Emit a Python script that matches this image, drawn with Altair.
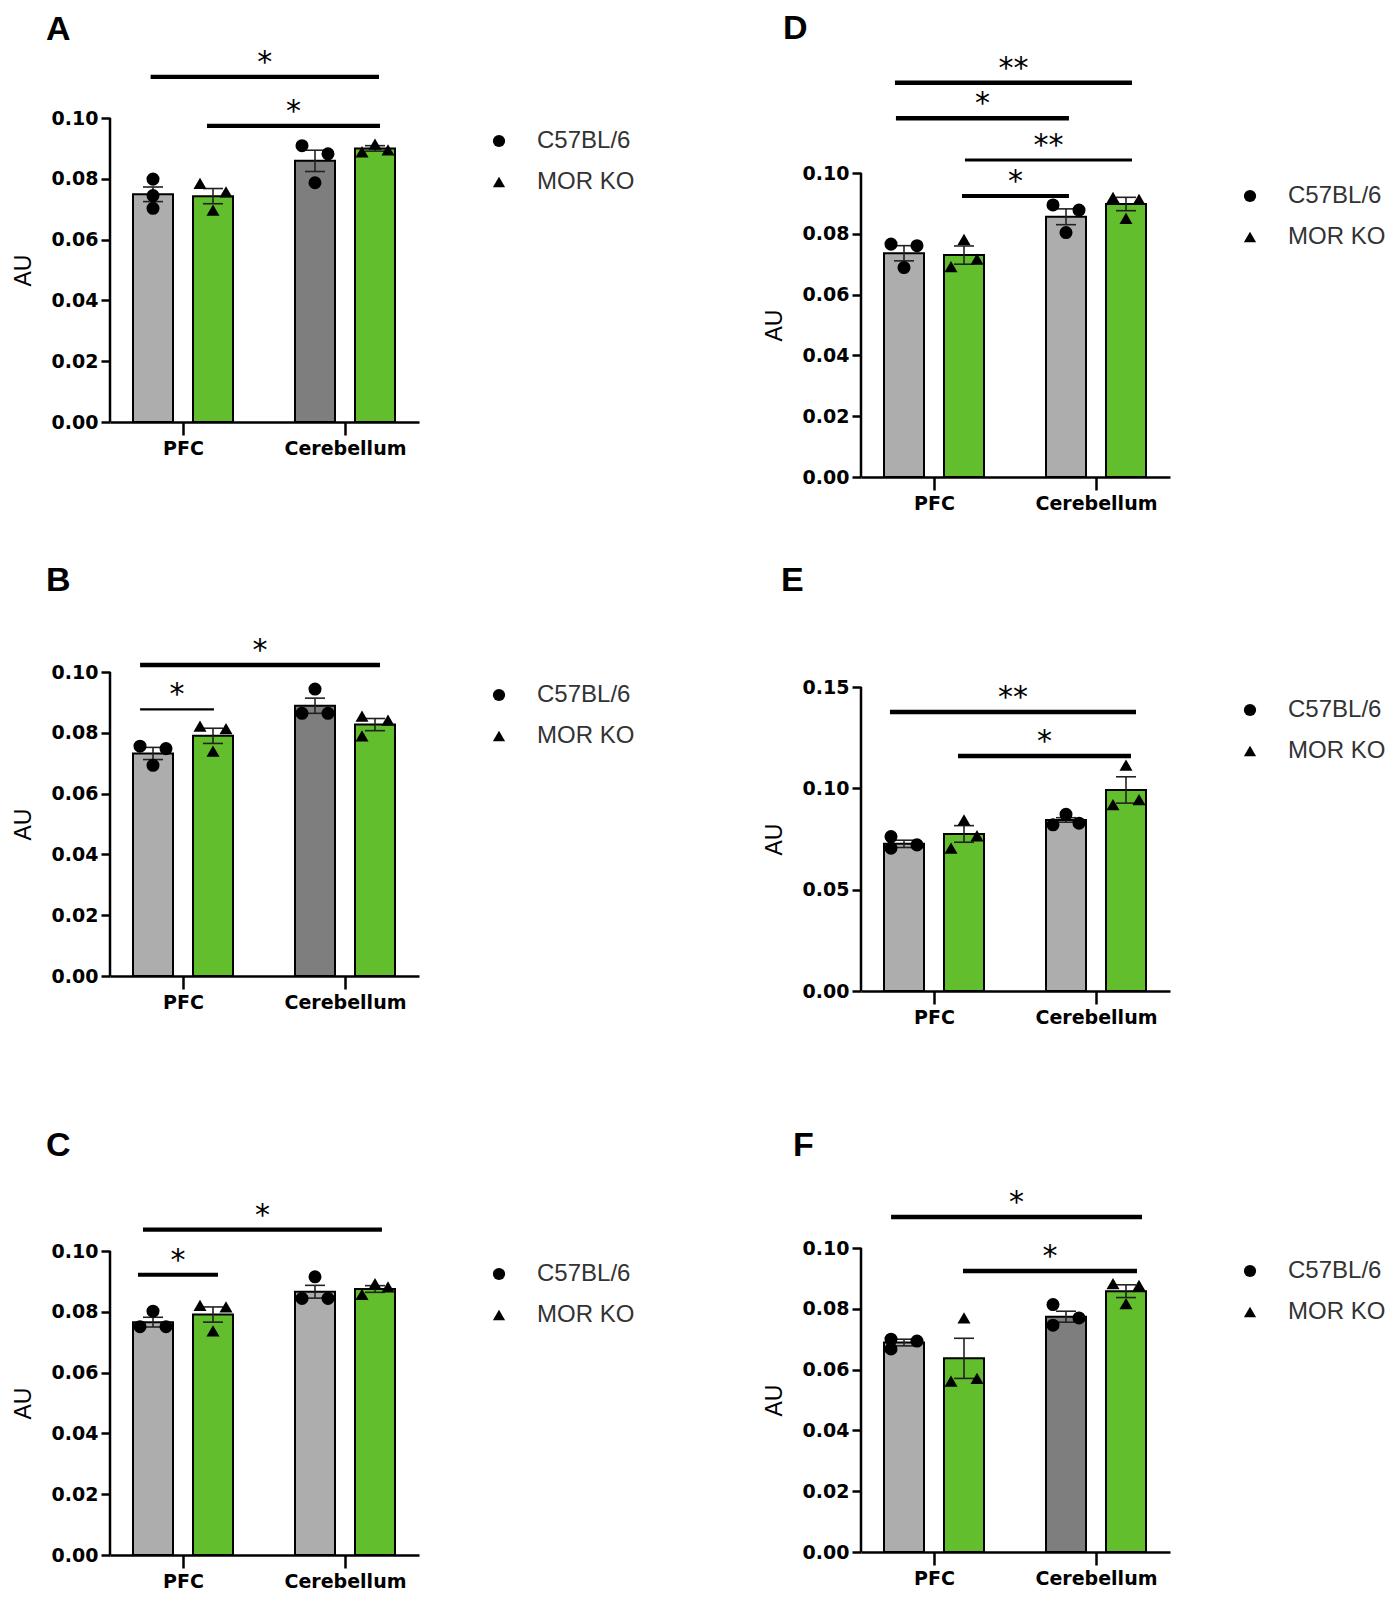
import altair as alt
import pandas as pd

# ---------------- data ----------------
groups = ["PFC", "Cerebellum"]
genotypes = ["C57BL/6", "MOR KO"]

# bar order: PFC C57BL/6, PFC MOR KO, Cerebellum C57BL/6, Cerebellum MOR KO
A_means = [0.0749, 0.0743, 0.0859, 0.0900]
A_sems = [0.0024, 0.0025, 0.0035, 0.0009]
A_points = [[0.0799, 0.0745, 0.0703], [0.0785, 0.0757, 0.0697],
            [0.0909, 0.0882, 0.0787], [0.0889, 0.0914, 0.0895]]
A_brackets = [(0.80, 2.21, 0.1135, "*"), (1.148, 2.216, 0.0974, "*")]

B_means = [0.0732, 0.0790, 0.0889, 0.0827]
B_sems = [0.0020, 0.0025, 0.0025, 0.0020]
B_points = [[0.0756, 0.0748, 0.0693], [0.0822, 0.0814, 0.0740],
            [0.0944, 0.0864, 0.0864], [0.0855, 0.0842, 0.0790]]
B_brackets = [(0.735, 2.216, 0.1023, "*"), (0.735, 1.191, 0.0877, "*")]

C_means = [0.0766, 0.0791, 0.0866, 0.0875]
C_sems = [0.0016, 0.0025, 0.0021, 0.0011]
C_points = [[0.0802, 0.0751, 0.0751], [0.0821, 0.0816, 0.0737],
            [0.0915, 0.0844, 0.0844], [0.0857, 0.0893, 0.0882]]
C_brackets = [(0.753, 2.228, 0.1070, "*"), (0.722, 1.216, 0.0922, "*")]

D_means = [0.0736, 0.0730, 0.0856, 0.0898]
D_sems = [0.0025, 0.0030, 0.0026, 0.0022]
D_points = [[0.0766, 0.0761, 0.0689], [0.0782, 0.0692, 0.0717],
            [0.0895, 0.0878, 0.0804], [0.0920, 0.0913, 0.0851]]
D_brackets = [(0.759, 2.222, 0.1297, "**"), (0.765, 1.833, 0.1180, "*"),
              (1.191, 2.222, 0.1043, "**"), (1.173, 1.833, 0.0924, "*")]

E_means = [0.0726, 0.0775, 0.0844, 0.0992]
E_sems = [0.0018, 0.0041, 0.0011, 0.0065]
E_points = [[0.0762, 0.0705, 0.0721], [0.0844, 0.0705, 0.0766],
            [0.0872, 0.0820, 0.0828], [0.1115, 0.0920, 0.0944]]
E_brackets = [(0.728, 2.247, 0.1377, "**"), (1.148, 2.216, 0.1159, "*")]

F_means = [0.0689, 0.0637, 0.0774, 0.0858]
F_sems = [0.0011, 0.0066, 0.0018, 0.0021]
F_points = [[0.0700, 0.0668, 0.0694], [0.0770, 0.0562, 0.0571],
            [0.0814, 0.0746, 0.0770], [0.0883, 0.0877, 0.0817]]
F_brackets = [(0.735, 2.284, 0.1102, "*"), (1.179, 2.253, 0.0924, "*")]

y_ticks_01 = [0.0, 0.02, 0.04, 0.06, 0.08, 0.10]
y_ticks_015 = [0.0, 0.05, 0.10, 0.15]

# ---------------- styles / layout ----------------
# horizontal spread of the individual points (-1 left, 0 centre, 1 right)
JIT = {
    "A": [[0, 0, 0], [-1, 1, 0], [-1, 1, 0], [-1, 0, 1]],
    "B": [[-1, 1, 0], [-1, 1, 0], [0, -1, 1], [-1, 1, -1]],
    "C": [[0, -1, 1], [-1, 1, 0], [0, -1, 1], [-1, 0, 1]],
    "D": [[-1, 1, 0], [0, -1, 1], [-1, 1, 0], [-1, 1, 0]],
    "E": [[-1, -1, 1], [0, -1, 1], [0, -1, 1], [0, -1, 1]],
    "F": [[-1, -1, 1], [0, -1, 1], [-1, -1, 1], [-1, 1, 0]],
}
BRACKET_W = {
    "A": [4.3, 4.3], "B": [4.5, 2.4], "C": [4.2, 4.0],
    "D": [4.5, 4.5, 3.0, 4.0], "E": [4.5, 4.5], "F": [4.5, 4.5],
}
LIGHT_GREY = "#adadad"
DARK_GREY = "#7e7e7e"
GREEN = "#62be2d"
CEREB_GREY = {"A": DARK_GREY, "B": DARK_GREY, "C": LIGHT_GREY,
              "D": LIGHT_GREY, "E": LIGHT_GREY, "F": DARK_GREY}

PX_PER_UNIT = 162.0
XMIN = 1 - 73 / PX_PER_UNIT
PLOT_W = 309
XMAX = XMIN + PLOT_W / PX_PER_UNIT
AXIS_PX = 304          # pixels from 0 to the top tick
BAR_OFF = 30 / PX_PER_UNIT
BAR_HALF = 20 / PX_PER_UNIT
CAP_HALF = 10 / PX_PER_UNIT
JIT_PX = 13 / PX_PER_UNIT

TICK_FONT = "DejaVu Sans"
TEXT_FONT = "Liberation Sans"

# plot-area top padding above the top tick, and panel-letter placement
LAYOUT = {
    "A": dict(top_pad=110, letter_x=-64, letter_y=5),
    "B": dict(top_pad=180, letter_x=-64, letter_y=72),
    "C": dict(top_pad=205, letter_x=-64, letter_y=83),
    "D": dict(top_pad=165, letter_x=-78, letter_y=4),
    "E": dict(top_pad=140, letter_x=-80, letter_y=17),
    "F": dict(top_pad=187, letter_x=-68, letter_y=68),
}
VSPACE = 34
LEGEND_X = 377


def panel(letter, means, sems, points, brackets, ticks):
    lay = LAYOUT[letter]
    top_tick = ticks[-1]
    height = AXIS_PX + lay["top_pad"]
    ymax = top_tick * height / AXIS_PX

    bar_rows, pt_rows = [], []
    for i in range(4):
        gi, si = i // 2, i % 2
        center = (1 + gi) + (BAR_OFF if si else -BAR_OFF)
        if si:
            fill = GREEN
        else:
            fill = LIGHT_GREY if gi == 0 else CEREB_GREY[letter]
        bar_rows.append(dict(group=groups[gi], genotype=genotypes[si],
                             xc=center, x1=center - BAR_HALF, x2=center + BAR_HALF,
                             c1=center - CAP_HALF, c2=center + CAP_HALF,
                             mean=means[i], lo=means[i] - sems[i], hi=means[i] + sems[i],
                             fill=fill))
        for v, j in zip(points[i], JIT[letter][i]):
            pt_rows.append(dict(genotype=genotypes[si], xp=center + j * JIT_PX, v=v))
    bars = pd.DataFrame(bar_rows)
    pts = pd.DataFrame(pt_rows)
    br = pd.DataFrame([dict(bx1=b[0], bx2=b[1], by=b[2], lab=b[3],
                            bxm=(b[0] + b[1]) / 2, w=w)
                       for b, w in zip(brackets, BRACKET_W[letter])])
    yline = pd.DataFrame([dict(x=XMIN, y0=0.0, y1=top_tick)])
    lab = pd.DataFrame([dict(t=letter)])

    xscale = alt.Scale(domain=[XMIN, XMAX], nice=False, zero=False)
    xaxis = alt.Axis(values=[1, 2], labelExpr=f"datum.value == 1 ? '{groups[0]}' : '{groups[1]}'",
                     title=None, grid=False, tickSize=13, tickWidth=2.5, domainWidth=2.5,
                     domainColor="black", tickColor="black", labelColor="black",
                     labelFont=TICK_FONT, labelFontSize=19, labelFontWeight="bold",
                     labelPadding=4, labelFlush=False)
    yscale = alt.Scale(domain=[0, ymax], nice=False, zero=False)
    yaxis = alt.Axis(values=ticks, format=".2f", domain=False, grid=False,
                     tickSize=9, tickWidth=2.5, tickColor="black", labelColor="black",
                     labelFont=TICK_FONT, labelFontSize=19, labelFontWeight="bold",
                     labelPadding=3, title="AU", titleFont=TEXT_FONT, titleFontSize=23,
                     titleFontWeight="normal", titleColor="black", titlePadding=16,
                     titleY=lay["top_pad"] + AXIS_PX / 2)

    def X(f):
        return alt.X(f, scale=xscale, axis=xaxis)

    def Y(f):
        return alt.Y(f, scale=yscale, axis=yaxis)

    bar_l = alt.Chart(bars).mark_bar(stroke="black", strokeWidth=2).encode(
        x=X("x1:Q"), x2="x2:Q", y=Y("mean:Q"), y2=alt.datum(0),
        color=alt.Color("fill:N", scale=None))
    yline_l = alt.Chart(yline).mark_rule(color="black", strokeWidth=2.5).encode(
        x=X("x:Q"), y=Y("y0:Q"), y2="y1:Q")
    err_l = alt.Chart(bars).mark_rule(color="#222222", strokeWidth=1.6).encode(
        x=X("xc:Q"), y=Y("lo:Q"), y2="hi:Q")
    cap_hi = alt.Chart(bars).mark_rule(color="#222222", strokeWidth=1.6).encode(
        x=X("c1:Q"), x2="c2:Q", y=Y("hi:Q"))
    cap_lo = alt.Chart(bars).mark_rule(color="#222222", strokeWidth=1.6).encode(
        x=X("c1:Q"), x2="c2:Q", y=Y("lo:Q"))
    pt_l = alt.Chart(pts).mark_point(filled=True, color="black", opacity=1, size=170).encode(
        x=X("xp:Q"), y=Y("v:Q"),
        shape=alt.Shape("genotype:N",
                        scale=alt.Scale(domain=genotypes, range=["circle", "triangle-up"]),
                        legend=alt.Legend(title=None, orient="none",
                                          legendX=LEGEND_X, legendY=lay["top_pad"] + 20 - 9,
                                          labelFont=TEXT_FONT, labelFontSize=24,
                                          labelColor="#333333", symbolSize=150,
                                          symbolFillColor="black", symbolStrokeColor="black",
                                          symbolStrokeWidth=0, rowPadding=17,
                                          labelOffset=26, padding=0)))
    br_l = alt.Chart(br).mark_rule(color="black").encode(
        x=X("bx1:Q"), x2="bx2:Q", y=Y("by:Q"),
        strokeWidth=alt.StrokeWidth("w:Q", scale=None))
    star_l = alt.Chart(br).mark_text(font="DejaVu Sans", fontSize=30, color="black",
                                     align="center", baseline="middle", dy=-14).encode(
        x=X("bxm:Q"), y=Y("by:Q"), text="lab:N")
    let_l = alt.Chart(lab).mark_text(font=TEXT_FONT, fontSize=34, fontWeight="bold",
                                     color="black", align="left", baseline="top").encode(
        x=alt.value(lay["letter_x"]), y=alt.value(lay["letter_y"]), text="t:N")

    return alt.layer(bar_l, yline_l, err_l, cap_hi, cap_lo, pt_l, br_l, star_l, let_l).properties(
        width=PLOT_W, height=height)


pA = panel("A", A_means, A_sems, A_points, A_brackets, y_ticks_01)
pB = panel("B", B_means, B_sems, B_points, B_brackets, y_ticks_01)
pC = panel("C", C_means, C_sems, C_points, C_brackets, y_ticks_01)
pD = panel("D", D_means, D_sems, D_points, D_brackets, y_ticks_01)
pE = panel("E", E_means, E_sems, E_points, E_brackets, y_ticks_015)
pF = panel("F", F_means, F_sems, F_points, F_brackets, y_ticks_01)


def col(*charts):
    return alt.vconcat(*charts, spacing=VSPACE).resolve_scale(
        x="independent", y="independent", shape="independent").resolve_legend(shape="independent")


chart = alt.hconcat(col(pA, pB, pC), col(pD, pE, pF), spacing=128).resolve_scale(
    x="independent", y="independent", shape="independent").resolve_legend(
    shape="independent").properties(
    padding={"left": 4, "top": 0, "right": 0, "bottom": 2},
    background="white").configure_view(stroke=None)

chart.save("out.html", embed_options={"renderer": "svg", "actions": False})
